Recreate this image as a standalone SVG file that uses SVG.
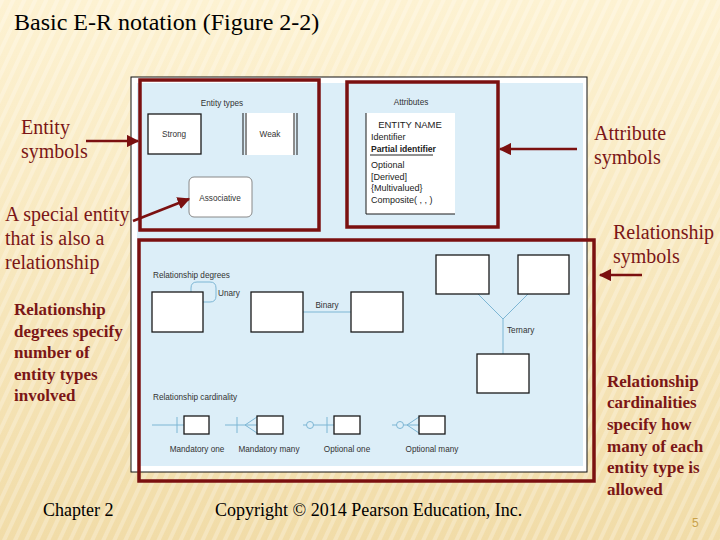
<svg xmlns="http://www.w3.org/2000/svg" width="720" height="540" viewBox="0 0 720 540">
<style>
.slide{font-family:"Liberation Serif","Times New Roman",serif;fill:#7B1616}
.sm{font-family:"Liberation Serif","Times New Roman",serif;font-size:20px}
.bd{font-family:"Liberation Serif","Times New Roman",serif;font-size:17px;font-weight:bold}
.fig{font-family:"Liberation Sans",Arial,sans-serif;font-size:8.2px;fill:#333}
.att{font-family:"Liberation Sans",Arial,sans-serif;font-size:9px;fill:#222}
.ent{fill:#fff;stroke:#1a1a1a;stroke-width:1.3}
.rbox{fill:none;stroke:#7B1010;stroke-width:3.5}
.blue{fill:none;stroke:#7DB6D4;stroke-width:1}
.arr{stroke:#7B1010;stroke-width:2.5;fill:none;marker-end:url(#ah)}
.foot{font-family:"Liberation Serif","Times New Roman",serif;font-size:18px;fill:#000}
</style>
<defs>
<linearGradient id="bg" x1="0" y1="0" x2="0" y2="1">
<stop offset="0" stop-color="#FDF2D2"/>
<stop offset="1" stop-color="#F1DCA8"/>
</linearGradient>
<pattern id="stripes" width="10" height="10" patternUnits="userSpaceOnUse" patternTransform="rotate(25)">
<rect width="4" height="10" fill="#FFFFFF" opacity="0.25"/>
</pattern>
<marker id="ah" viewBox="0 0 10 10" refX="9" refY="5" markerWidth="5" markerHeight="5" orient="auto" markerUnits="strokeWidth">
<path d="M0,0 L10,5 L0,10 Z" fill="#7B1010"/>
</marker>
</defs>
<rect width="720" height="540" fill="url(#bg)"/>
<rect width="720" height="540" fill="url(#stripes)"/>

<text x="14" y="30" style="font-family:'Liberation Serif','Times New Roman',serif;font-size:24px;fill:#000">Basic E-R notation (Figure 2-2)</text>

<g id="figure">
<rect x="131" y="77" width="456" height="395" fill="#fff" stroke="#111" stroke-width="1"/>
<rect x="137" y="83" width="446" height="383" fill="#DCEEF8"/>
</g>

<g id="entity-types">
<text class="fig" x="222" y="106" text-anchor="middle">Entity types</text>
</g>
<g id="strong">
<rect class="ent" x="148" y="114" width="53" height="40"/>
<text class="fig" x="174" y="137" text-anchor="middle">Strong</text>
</g>
<g id="weak">
<rect x="245" y="113" width="50" height="42" fill="#fff"/>
<path d="M243,113V155M246,113V155M294,113V155M297,113V155" stroke="#1a1a1a" stroke-width="1"/>
<text class="fig" x="270" y="137" text-anchor="middle">Weak</text>
</g>
<g id="associative">
<rect x="189" y="177" width="63" height="40" rx="5" fill="#fff" stroke="#888" stroke-width="1"/>
<text class="fig" x="220" y="201" text-anchor="middle">Associative</text>
</g>

<g id="attributes">
<text class="fig" x="411" y="105" text-anchor="middle">Attributes</text>
<rect x="366" y="113" width="89" height="101" fill="#fff"/>
<path d="M366,113V214H455" stroke="#1a1a1a" stroke-width="1" fill="none"/>
<text class="att" x="410" y="128" text-anchor="middle" style="font-size:9.5px">ENTITY NAME</text>
<text class="att" x="371" y="140">Identifier</text>
<text class="att" x="371" y="152" style="font-weight:bold;font-size:8.6px">Partial identifier</text>
<path d="M370,155H433" stroke="#222" stroke-width="1"/>
<text class="att" x="371" y="168">Optional</text>
<text class="att" x="371" y="180">[Derived]</text>
<text class="att" x="371" y="191">{Multivalued}</text>
<text class="att" x="371" y="203">Composite( , , )</text>
</g>

<g id="rel-degrees">
<text class="fig" x="153" y="278">Relationship degrees</text>
</g>
<g id="unary">
<path class="blue" d="M191,292V288Q191,282 197,282H210Q216,282 216,288V296Q216,302 210,302H203"/>
<rect class="ent" x="152" y="292" width="51" height="40"/>
<text class="fig" x="218" y="296">Unary</text>
</g>
<g id="binary">
<path class="blue" d="M303,312H351"/>
<rect class="ent" x="251" y="292" width="52" height="40"/>
<rect class="ent" x="351" y="292" width="52" height="40"/>
<text class="fig" x="327" y="308" text-anchor="middle">Binary</text>
</g>
<g id="ternary">
<path class="blue" d="M478,294L503,319L528,294M503,319V354"/>
<rect class="ent" x="436" y="255" width="53" height="39"/>
<rect class="ent" x="518" y="255" width="51" height="39"/>
<rect class="ent" x="477" y="354" width="52" height="39"/>
<text class="fig" x="507" y="333">Ternary</text>
</g>

<g id="rel-cardinality">
<text class="fig" x="153" y="400">Relationship cardinality</text>
</g>
<g id="mandatory-one">
<path class="blue" d="M152,425H184M177,417V433"/>
<rect class="ent" x="184" y="416" width="25" height="18"/>
<text class="fig" x="197" y="452" text-anchor="middle">Mandatory one</text>
</g>
<g id="mandatory-many">
<path class="blue" d="M225,425H257M237,417V433M257,417L245,425L257,433"/>
<rect class="ent" x="257" y="416" width="26" height="18"/>
<text class="fig" x="269" y="452" text-anchor="middle">Mandatory many</text>
</g>
<g id="optional-one">
<path class="blue" d="M303,425H306.5M313.5,425H334M327,417V433"/>
<circle class="blue" cx="310" cy="425" r="3.5"/>
<rect class="ent" x="334" y="416" width="26" height="18"/>
<text class="fig" x="347" y="452" text-anchor="middle">Optional one</text>
</g>
<g id="optional-many">
<path class="blue" d="M392,425H396.5M403.5,425H419M419,417L407,425L419,433"/>
<circle class="blue" cx="400" cy="425" r="3.5"/>
<rect class="ent" x="419" y="416" width="26" height="18"/>
<text class="fig" x="432" y="452" text-anchor="middle">Optional many</text>
</g>

<g id="highlights">
<rect class="rbox" x="140" y="80" width="179" height="150"/>
<rect class="rbox" x="347" y="82" width="151" height="145"/>
<rect class="rbox" x="139" y="240" width="455" height="241"/>
</g>

<g id="connectors">
<path class="arr" d="M86,141H138"/>
<path class="arr" d="M133,221L189,199"/>
<path class="arr" d="M577,149H500"/>
<path class="arr" d="M642,275H600"/>
</g>

<g id="labels" class="slide">
<text class="sm" x="21" y="134">Entity</text>
<text class="sm" x="21" y="158">symbols</text>
<text class="sm" x="5" y="221">A special entity</text>
<text class="sm" x="5" y="245">that is also a</text>
<text class="sm" x="5" y="269">relationship</text>
<text class="bd" x="14" y="315">Relationship</text>
<text class="bd" x="14" y="337">degrees specify</text>
<text class="bd" x="14" y="358">number of</text>
<text class="bd" x="14" y="380">entity types</text>
<text class="bd" x="14" y="401">involved</text>
<text class="sm" x="594" y="140">Attribute</text>
<text class="sm" x="594" y="164">symbols</text>
<text class="sm" x="613" y="239">Relationship</text>
<text class="sm" x="613" y="263">symbols</text>
<text class="bd" x="607" y="387">Relationship</text>
<text class="bd" x="607" y="408">cardinalities</text>
<text class="bd" x="607" y="430">specify how</text>
<text class="bd" x="607" y="452">many of each</text>
<text class="bd" x="607" y="473">entity type is</text>
<text class="bd" x="607" y="495">allowed</text>
</g>

<g id="footer">
<text class="foot" x="43" y="516">Chapter 2</text>
<text class="foot" x="215" y="516">Copyright © 2014 Pearson Education, Inc.</text>
<text x="692" y="527" style="font-family:'Liberation Sans',Arial,sans-serif;font-size:12px;fill:#C9A24A">5</text>
</g>
</svg>
